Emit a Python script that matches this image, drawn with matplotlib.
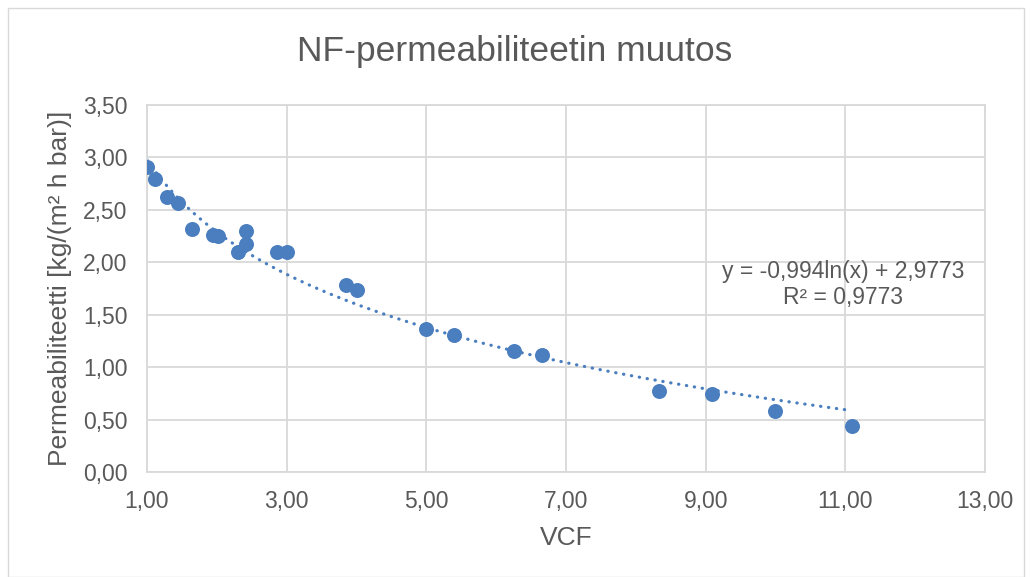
import numpy as np
import matplotlib
matplotlib.use('Agg')
import matplotlib.pyplot as plt
from matplotlib.ticker import FuncFormatter
from matplotlib.patches import Rectangle

plt.rcParams['font.family'] = ['Liberation Sans', 'DejaVu Sans']

# Mittausdata
vcf = [1.00, 1.12, 1.28, 1.45, 1.65, 1.95, 2.02, 2.30, 2.42, 2.42, 2.86, 3.00,
       3.85, 4.00, 5.00, 5.40, 6.25, 6.66, 8.33, 9.09, 10.00, 11.10]
perm = [2.91, 2.79, 2.62, 2.57, 2.32, 2.26, 2.25, 2.10, 2.30, 2.17, 2.10, 2.10,
        1.78, 1.74, 1.36, 1.31, 1.15, 1.12, 0.77, 0.74, 0.58, 0.44]

# Trendiviivan kertoimet (Excelin logaritminen sovitus)
trend_a = -0.994
trend_b = 2.9773
trend_r2 = 0.9773

blue = '#4a7ebf'
grey_text = '#595959'
grid_col = '#d9d9d9'

fig = plt.figure(figsize=(10.31, 5.77), dpi=100)
ax = fig.add_axes([147 / 1031, 1 - 472 / 577, (985 - 147) / 1031, (472 - 105) / 577])

# Kaavion reunus
fig.patches.append(Rectangle((8 / 1031, 0), 1016 / 1031, 569 / 577, transform=fig.transFigure,
                             fill=False, edgecolor=grid_col, linewidth=1.0))

# Trendiviiva
x_fit = np.linspace(min(vcf), 11.05, 200)
y_fit = trend_a * np.log(x_fit) + trend_b
ax.plot(x_fit, y_fit, color=blue, linewidth=2.3, linestyle=(0, (0.1, 2.4)),
        dash_capstyle='round', zorder=2)

# Pisteet
ax.plot(vcf, perm, 'o', color=blue, markersize=10.8, markeredgewidth=0, zorder=3)

ax.set_xlim(1, 13)
ax.set_ylim(0, 3.5)
ax.set_xticks(np.arange(1, 13.1, 2))
ax.set_yticks(np.arange(0, 3.51, 0.5))
fmt = FuncFormatter(lambda v, p: f'{v:.2f}'.replace('.', ','))
ax.xaxis.set_major_formatter(fmt)
ax.yaxis.set_major_formatter(fmt)
ax.grid(True, color=grid_col, linewidth=1.3, zorder=0)
ax.set_axisbelow(True)
for s in ax.spines.values():
    s.set_color(grid_col)
    s.set_linewidth(1.3)
ax.tick_params(length=0, labelsize=16.5, labelcolor=grey_text)
ax.tick_params(axis='x', pad=13)
ax.tick_params(axis='y', pad=14)

ax.set_xlabel('VCF', fontsize=19, color=grey_text, labelpad=9)
ax.set_ylabel('Permeabiliteetti [kg/(m² h bar)]', fontsize=19, color=grey_text, labelpad=8)
fig.text(515 / 1031, 1 - 52 / 577, 'NF-permeabiliteetin muutos', fontsize=25.5,
         color=grey_text, ha='center', va='center')

eq = f'y = {trend_a:.3f}ln(x) + {trend_b:.4f}'.replace('.', ',')
r2 = f'R² = {trend_r2:.4f}'.replace('.', ',')
ax.text(10.97, 1.79, eq + '\n' + r2, fontsize=16.5, color=grey_text,
        ha='center', va='center', linespacing=1.2)

fig.savefig('out.png', dpi=100)
